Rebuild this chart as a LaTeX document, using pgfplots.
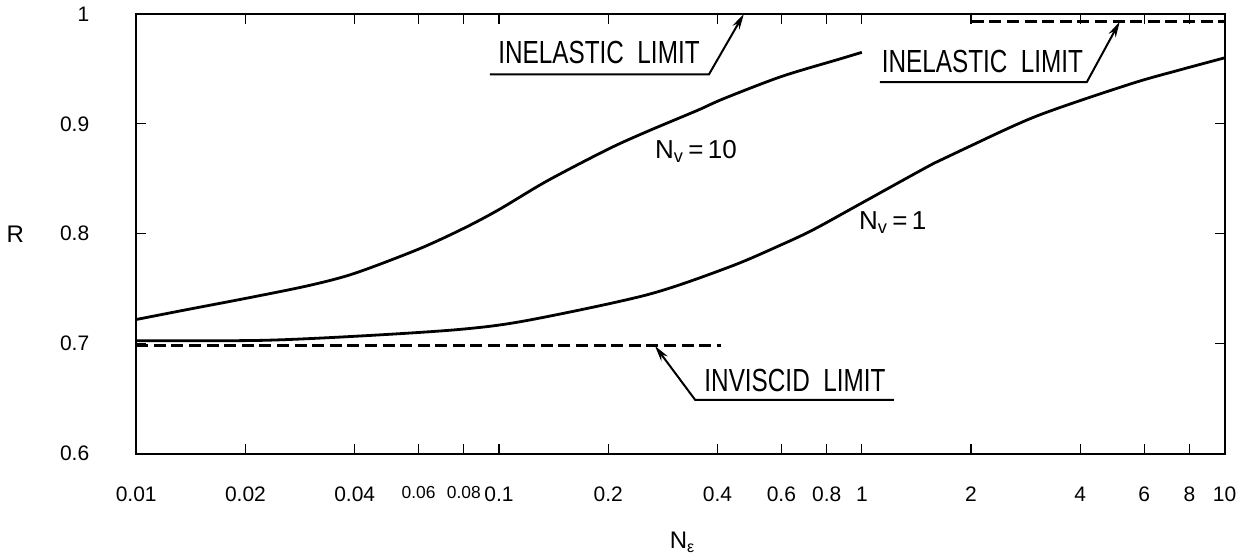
\documentclass[border=0pt]{standalone}
\usepackage{fontspec}
\setmainfont{Liberation Sans}
\newfontfamily\cond[FakeStretch=0.76]{Liberation Sans}
\usepackage{pgfplots}
\pgfplotsset{compat=1.18}
\usetikzlibrary{arrows.meta}

\pgfplotstableread{
x y
0.01 0.722
0.0138 0.731
0.0206 0.742
0.03 0.753
0.04 0.764
0.06 0.786
0.08 0.805
0.1 0.822
0.1356 0.848
0.2 0.877
0.256 0.893
0.351 0.912
0.417 0.923
0.6 0.943
0.87 0.959
1.0 0.965
}\nvten

\pgfplotstableread{
x y
0.01 0.7027
0.022 0.703
0.0414 0.707
0.078 0.713
0.119 0.721
0.256 0.7445
0.433 0.770
0.6 0.790
0.738 0.804
1.0 0.828
1.578 0.864
1.91 0.877
3.03 0.907
5.47 0.936
7.52 0.949
10 0.960
}\nvone

\begin{document}
\begin{tikzpicture}
\begin{axis}[
  scale only axis,
  width=544.5pt, height=220pt,
  xmode=log,
  xmin=0.01, xmax=10,
  ymin=0.6, ymax=1,
  axis line style={line width=0.9pt},
  xtick={0.01,0.02,0.04,0.06,0.08,0.1,0.2,0.4,0.6,0.8,1,2,4,6,8,10},
  xticklabels={0.01,0.02,0.04,{\fontsize{8.7}{10}\selectfont 0.06},{\fontsize{8.7}{10}\selectfont 0.08},0.1,0.2,0.4,0.6,0.8,1,2,4,6,8,10},
  minor xtick={},
  ytick={0.6,0.7,0.8,0.9,1},
  yticklabels={0.6,0.7,0.8,0.9,1},
  tick align=inside,
  major tick length=5pt,
  tick style={line width=0.6pt, black},
  xticklabel style={font=\fontsize{10.5}{12}\selectfont, yshift=-13pt},
  yticklabel style={font=\fontsize{10.5}{12}\selectfont, xshift=-20pt},
  xlabel={N\textsubscript{ε}},
  ylabel={R},
  xlabel style={at={(rel axis cs:0.502,0)}, anchor=center, yshift=-44.5pt, font=\fontsize{12}{14}\selectfont},
  ylabel style={at={(rel axis cs:0,0.5)}, anchor=center, rotate=-90, font=\fontsize{12}{14}\selectfont},
  every axis y label/.append style={xshift=-60.5pt},
  clip=false,
]
\addplot[black, line width=1.4pt, smooth] table {\nvten};
\addplot[black, line width=1.4pt, smooth] table {\nvone};
\addplot[black, line width=1.4pt, dash pattern=on 6pt off 2.8pt] coordinates {(0.01,0.698) (0.41,0.698)};
\addplot[black, line width=1.4pt, dash pattern=on 6pt off 2.8pt] coordinates {(2.01,0.993) (10,0.993)};

\draw[black, line width=1pt, -{Stealth[length=8pt,width=4pt]}] (axis cs:0.0944,0.945) -- (axis cs:0.379,0.945) -- (axis cs:0.473,1.0);
\draw[black, line width=1pt, -{Stealth[length=8pt,width=4pt]}] (axis cs:1.121,0.938) -- (axis cs:4.17,0.938) -- (axis cs:5.14,0.993);
\draw[black, line width=1pt, -{Stealth[length=8pt,width=4pt]}] (axis cs:1.225,0.649) -- (axis cs:0.347,0.649) -- (axis cs:0.269,0.698);

\node[font=\cond\fontsize{16}{18}\selectfont] at (axis cs:0.1886,0.965) {INELASTIC\ \ LIMIT};
\node[font=\cond\fontsize{16}{18}\selectfont] at (axis cs:2.15,0.957) {INELASTIC\ \ LIMIT};
\node[font=\cond\fontsize{16}{18}\selectfont] at (axis cs:0.654,0.6664) {INVISCID\ \ LIMIT};
\node[font=\fontsize{13}{15}\selectfont] at (axis cs:0.349,0.875) {N\textsubscript{v}\,=\,10};
\node[font=\fontsize{13}{15}\selectfont] at (axis cs:1.217,0.81) {N\textsubscript{v}\,=\,1};
\end{axis}
\end{tikzpicture}
\end{document}
